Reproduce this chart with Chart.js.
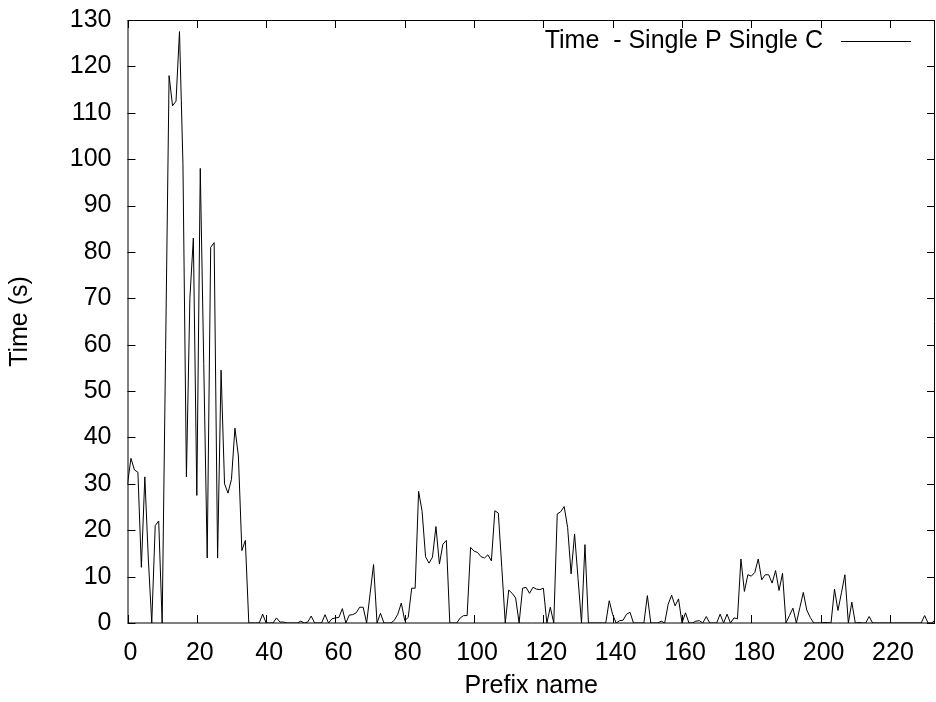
<!DOCTYPE html>
<html>
<head>
<meta charset="utf-8">
<script src="https://cdn.jsdelivr.net/npm/chart.js@4.4.1/dist/chart.umd.min.js"></script>
<style>
  html, body { margin: 0; padding: 0; background: #fff; }
  canvas { display: block; }
</style>
</head>
<body>
<canvas id="chart" width="936" height="702"></canvas>
<script>
// Series, one value per prefix (index 0..233)
const seriesLabel = 'Time  - Single P Single C';
const times = [
  30, 35.5, 33, 32.5, 12, 31.5, 14, 0, 21, 22,
  0, 59, 118, 111.5, 112.5, 127.5, 99, 31.5, 70, 83,
  27.5, 98, 56, 14, 81, 82, 14, 54.5, 30, 28,
  31, 42, 36, 15.6, 17.8, 0, 0, 0, 0, 1.9,
  0, 0, 0, 1.1, 0.2, 0.2, 0, 0, 0, 0,
  0.4, 0, 0.2, 1.5, 0, 0, 0, 1.8, 0, 0.9,
  1.1, 1.2, 3.1, 0, 1.7, 1.8, 2.2, 3.4, 3.4, 0,
  6.3, 12.6, 0, 2.1, 0, 0, 0, 0.6, 1.9, 4.3,
  0.5, 1.2, 7.5, 7.5, 28.4, 24.1, 14.3, 12.9, 14.2, 20.8,
  12.7, 17, 17.8, 0, 0, 0, 1.1, 1.6, 1.6, 16.3,
  15.5, 15.2, 14.3, 14, 14.7, 13.4, 24.2, 23.7, 12, 0,
  7.1, 6.4, 5.4, 0, 7.5, 7.7, 6.4, 7.7, 7.3, 7.2,
  7.5, 0, 3.4, 0, 23.5, 24, 25.1, 20.6, 10.6, 19.2,
  9.6, 0, 16.9, 0, 0, 0, 0, 0, 0, 4.8,
  1.8, 0, 0.5, 0.6, 1.9, 2.3, 0, 0, 0, 0,
  5.9, 0, 0, 0, 0.4, 0, 4, 6, 3.7, 5.2,
  0, 2.2, 0, 0, 0.4, 0.5, 0, 1.4, 0, 0,
  0, 1.9, 0, 1.9, 0, 1.1, 0.9, 13.8, 6.8, 10.4,
  10.1, 10.9, 13.8, 9.3, 10.4, 10.4, 8.6, 11.3, 7, 10.7,
  0, 1.6, 3.2, 0, 3.3, 6.6, 2.8, 1.2, 0, 0,
  0, 0.1, 0.1, 0, 7.3, 2.7, 6.5, 10.4, 0, 4.5,
  0, 0.1, 0, 0, 1.4, 0, 0, 0, 0, 0,
  0, 0, 0, 0, 0, 0, 0, 0, 0, 0,
  1.6, 0, 0, 0.6
];
const prefixIds = times.map((_, i) => i);

const xMax = 233;
const xStep = 20;
const yMax = 130;
const yStep = 10;

const FONT = 'Liberation Sans, Arial, Helvetica, sans-serif';
Chart.defaults.font.family = FONT;
Chart.defaults.font.size = 25;
Chart.defaults.color = '#000';

// gnuplot style: full border, inward ticks on all four sides, key at top right
const gnuFrame = {
  id: 'gnuFrame',
  afterDatasetsDraw(chart) {
    const { ctx, chartArea: a, scales: { x, y } } = chart;
    const tl = 8;
    ctx.save();
    ctx.strokeStyle = '#000';
    ctx.lineWidth = 1;
    ctx.beginPath();
    ctx.rect(a.left + 0.5, a.top + 0.5, a.right - a.left - 1, a.bottom - a.top - 0.5);
    x.ticks.forEach(t => {
      const px = Math.round(x.getPixelForValue(t.value)) + 0.5;
      ctx.moveTo(px, a.bottom); ctx.lineTo(px, a.bottom - tl);
      ctx.moveTo(px, a.top); ctx.lineTo(px, a.top + tl);
    });
    y.ticks.forEach(t => {
      const py = Math.round(y.getPixelForValue(t.value)) + 0.5;
      ctx.moveTo(a.left, py); ctx.lineTo(a.left + tl, py);
      ctx.moveTo(a.right, py); ctx.lineTo(a.right - tl, py);
    });
    ctx.stroke();

    // key
    const ds = chart.data.datasets[0];
    ctx.font = '25px ' + FONT;
    ctx.fillStyle = '#000';
    ctx.textAlign = 'right';
    ctx.textBaseline = 'middle';
    ctx.fillText(ds.label, a.right - 112, a.top + 21);
    ctx.beginPath();
    ctx.strokeStyle = ds.borderColor;
    ctx.moveTo(a.right - 94, a.top + 21.5);
    ctx.lineTo(a.right - 24, a.top + 21.5);
    ctx.stroke();
    ctx.restore();
  }
};

new Chart(document.getElementById('chart'), {
  type: 'line',
  data: {
    labels: prefixIds,
    datasets: [{
      label: seriesLabel,
      data: times,
      borderColor: '#000',
      borderWidth: 1,
      pointRadius: 0,
      tension: 0,
      fill: false
    }]
  },
  options: {
    responsive: false,
    animation: false,
    devicePixelRatio: 1,
    layout: { padding: { top: 20, right: 1, left: 0, bottom: 0 } },
    plugins: {
      legend: { display: false },
      tooltip: { enabled: false }
    },
    scales: {
      x: {
        type: 'linear',
        min: 0,
        max: xMax,
        grid: { display: false },
        border: { display: false },
        ticks: { stepSize: xStep, includeBounds: false, padding: 7, labelOffset: 3, maxRotation: 0 },
        title: { display: true, text: 'Prefix name', padding: { top: 0, bottom: 1 } },
        afterFit: s => { s.height = 79; s.paddingLeft = 0; s.paddingRight = 0; }
      },
      y: {
        min: 0,
        max: yMax,
        grid: { display: false },
        border: { display: false },
        ticks: { stepSize: yStep, padding: 8 },
        title: { display: true, text: 'Time (s)', padding: { top: 5, bottom: 0 } },
        afterFit: s => { s.width = 127.5; s.paddingTop = 0; s.paddingBottom = 0; }
      }
    }
  },
  plugins: [gnuFrame]
});
</script>
</body>
</html>
